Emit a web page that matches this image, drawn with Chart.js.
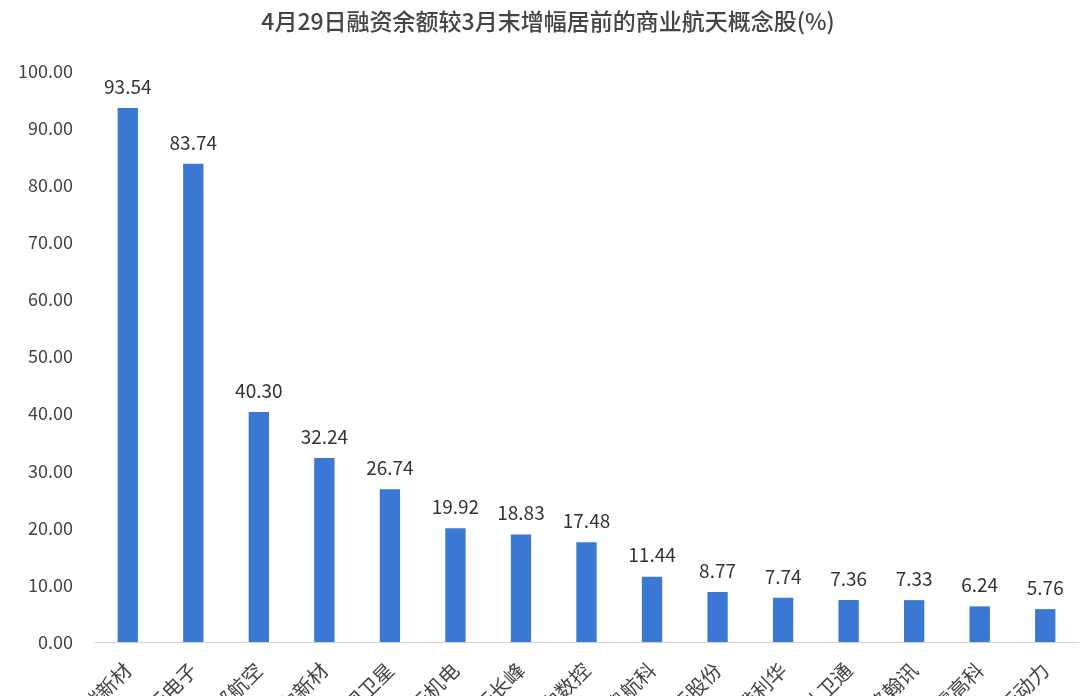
<!DOCTYPE html>
<html><head><meta charset="utf-8">
<script src="https://cdn.jsdelivr.net/npm/chart.js@4"></script>
<style>html,body{margin:0;padding:0;background:#fff;overflow:hidden}#w{width:1080px;height:770px}</style>
</head><body><div id="w"><canvas id="c"></canvas></div>
<script>
const categories=['斯瑞新材','航天电子','西部航空','铂力新材','中国卫星','航天机电','航天长峰','华中数控','天奥航科','航天股份','信维利华','北斗卫通','海格翰讯','雷高科','航天动力'];
const values=[93.54,83.74,40.30,32.24,26.74,19.92,18.83,17.48,11.44,8.77,7.74,7.36,7.33,6.24,5.76];
const yTicks=[0,10,20,30,40,50,60,70,80,90,100];
const title='4月29日融资余额较3月末增幅居前的商业航天概念股(%)';
const F='"Noto Sans CJK SC","Noto Sans",sans-serif';
const deco={id:'deco',afterDatasetsDraw(ch){const x=ch.ctx;x.save();x.fillStyle='#333';x.font='19px '+F;x.textAlign='center';x.textBaseline='bottom';
ch.getDatasetMeta(0).data.forEach((b,i)=>x.fillText(values[i].toFixed(2),b.x,b.y-12));
x.fillStyle='#444';x.font='500 23px '+F;x.textBaseline='middle';x.fillText(title,548,21);x.restore();}};
new Chart(document.getElementById('c'),{type:'bar',data:{labels:categories,datasets:[{data:values,backgroundColor:'#3a78d4',barPercentage:0.31,categoryPercentage:1}]},
options:{responsive:true,maintainAspectRatio:false,animation:false,layout:{padding:{top:71,right:2,left:0,bottom:0}},
plugins:{legend:{display:false},tooltip:{enabled:false}},
scales:{y:{min:0,max:100,afterBuildTicks(a){a.ticks=yTicks.map(v=>({value:v}));},afterFit(a){a.width=95;},
ticks:{color:'#444',font:{size:18,family:F},padding:14,callback:v=>v.toFixed(2)},grid:{display:false},border:{display:false}},
x:{afterFit(a){a.height=770-642;},ticks:{color:'#444',font:{size:20,family:F},padding:8,minRotation:45,maxRotation:45,autoSkip:false},grid:{display:false},border:{color:'#d0d0d0',width:1}}}},
plugins:[deco]});
</script></body></html>
